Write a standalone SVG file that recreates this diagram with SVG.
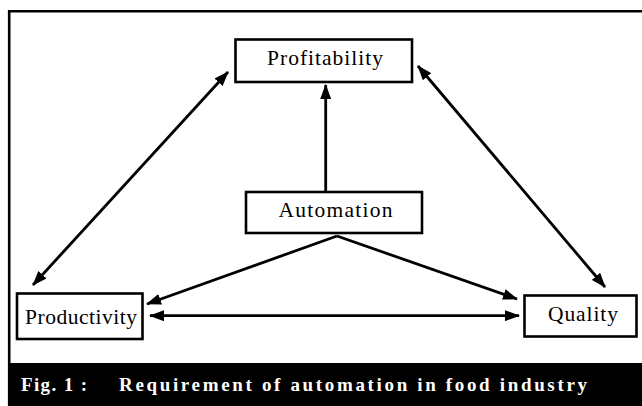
<svg xmlns="http://www.w3.org/2000/svg" width="642" height="406" viewBox="0 0 642 406">
<style>
.box{fill:#fff;stroke:#000;stroke-width:2.6}
.lbl{font-family:"Liberation Serif","Times New Roman",serif;font-size:21.5px;fill:#000;text-anchor:start}
.cap{font-family:"Liberation Serif","Times New Roman",serif;font-size:19px;font-weight:bold;fill:#fff}
.con line{stroke:#000;stroke-width:2.8;fill:none}
</style>
<defs>
<marker id="ah" viewBox="0 0 15 11" refX="14" refY="5.5" markerWidth="15" markerHeight="11" markerUnits="userSpaceOnUse" orient="auto-start-reverse">
<path d="M0,0 L15,5.5 L0,11 z" fill="#000"/>
</marker>
</defs>
<rect width="642" height="406" fill="#fff"/>
<g id="frame">
<path d="M9.2,406 V11.2 H642" fill="none" stroke="#000" stroke-width="2.6"/>
<rect x="8" y="363" width="634" height="43" fill="#000"/>
<text class="cap" x="21" y="391" textLength="66" lengthAdjust="spacing">Fig. 1 :</text>
<text class="cap" x="119" y="391" textLength="468" lengthAdjust="spacing">Requirement of automation in food industry</text>
</g>
<g class="con" id="connectors">
<line x1="325.7" y1="191" x2="325.7" y2="85" marker-end="url(#ah)"/>
<line x1="33" y1="285" x2="228" y2="72" marker-start="url(#ah)" marker-end="url(#ah)"/>
<line x1="418" y1="66" x2="605" y2="287" marker-start="url(#ah)" marker-end="url(#ah)"/>
<line x1="337" y1="236" x2="147" y2="304" marker-end="url(#ah)"/>
<line x1="337" y1="236" x2="517" y2="299" marker-end="url(#ah)"/>
<line x1="150" y1="315.7" x2="519" y2="315.7" marker-start="url(#ah)" marker-end="url(#ah)"/>
</g>
<g id="profitability">
<rect class="box" x="235.5" y="39.5" width="176.5" height="42.5"/>
<text class="lbl" x="267" y="65" textLength="116" lengthAdjust="spacing">Profitability</text>
</g>
<g id="automation">
<rect class="box" x="246" y="192" width="176" height="41"/>
<text class="lbl" x="278.5" y="216.7" textLength="114" lengthAdjust="spacing">Automation</text>
</g>
<g id="productivity">
<rect class="box" x="17" y="293.5" width="125.5" height="45.5"/>
<text class="lbl" x="25" y="324" textLength="112" lengthAdjust="spacing">Productivity</text>
</g>
<g id="quality">
<rect class="box" x="524.5" y="295.5" width="112" height="41"/>
<text class="lbl" x="548" y="320.7" textLength="70" lengthAdjust="spacing">Quality</text>
</g>
</svg>
